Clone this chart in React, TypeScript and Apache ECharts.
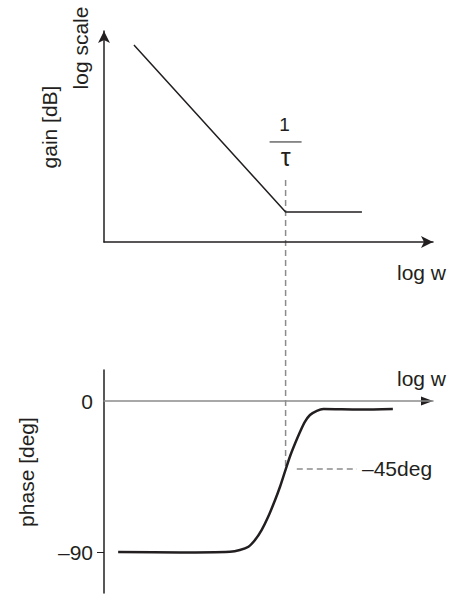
import React, { useEffect, useRef } from "react";
import * as echarts from "echarts";

// gain plot (asymptotic), arbitrary log-w units
const gainX = [0.91, 5.52, 7.84];
const gainY = [9.34, 1.42, 1.42];

// phase plot
const phaseX = [0.43, 2.31, 3.83, 4.13, 4.39, 4.59, 4.79, 4.99, 5.2, 5.35, 5.5, 5.65, 5.81, 5.96, 6.11, 6.26, 6.47, 6.67, 7.78, 8.78];
const phaseDeg = [-90, -90.2, -89.8, -88.8, -86.8, -82.8, -76.9, -69.0, -59.0, -51.1, -42.1, -33.2, -25.2, -18.3, -12.3, -8.3, -5.8, -4.8, -5.1, -4.8];

// guides
const cornerX = 5.52;
const guideTopGain = 2.94;
const guidePhase = -40.5;
const guideStartX = 5.86;
const guideEndX = 7.69;
const guideLabel = "–45deg";

const phaseTickValues = [0, -90];
const phaseTickLabels = ["0", "–90"];

const FONT = "'Liberation Sans', Arial, Helvetica, sans-serif";
const INK = "#231f20";
const GRAY = "#8c8c8c";

export default function App() {
  const ref = useRef<HTMLDivElement>(null);
  useEffect(() => {
    if (!ref.current) return;
    const chart = echarts.init(ref.current, null, { renderer: "svg" });
    const arrowAxis = (color: string) => ({
      show: true,
      symbol: ["none", "arrow"],
      symbolSize: [9, 12],
      lineStyle: { color, width: 1.5 },
    });
    const option: any = {
      animation: false,
      grid: [
        { left: 104, top: 31, width: 329, height: 211 },
        { left: 104, top: 370, width: 329, height: 223 },
      ],
      xAxis: [
        {
          gridIndex: 0, type: "value", min: 0, max: 10,
          axisLine: { ...arrowAxis(INK), onZero: false },
          axisTick: { show: false }, axisLabel: { show: false }, splitLine: { show: false },
        },
        {
          gridIndex: 1, type: "value", min: 0, max: 10,
          axisLine: { show: true, onZero: true, lineStyle: { color: GRAY, width: 1.5 } },
          axisTick: { show: false }, axisLabel: { show: false }, splitLine: { show: false },
        },
      ],
      yAxis: [
        {
          gridIndex: 0, type: "value", min: 0, max: 10,
          axisLine: { ...arrowAxis(INK), onZero: false },
          axisTick: { show: false }, axisLabel: { show: false }, splitLine: { show: false },
        },
        {
          gridIndex: 1, type: "value", min: -114.4, max: 18.5,
          axisLine: { show: true, onZero: false, lineStyle: { color: INK, width: 1.5 } },
          axisTick: { show: true, customValues: [-90], length: 7, lineStyle: { color: INK, width: 1 } },
          axisLabel: {
            show: true,
            customValues: phaseTickValues,
            formatter: (v: number) => phaseTickLabels[phaseTickValues.indexOf(v)] ?? "",
            fontSize: 21, color: INK, fontFamily: FONT, margin: 11,
            padding: [7, 0, 0, 0],
          },
          splitLine: { show: false },
        },
      ],
      series: [
        {
          type: "line", xAxisIndex: 0, yAxisIndex: 0,
          data: gainX.map((x, i) => [x, gainY[i]]),
          symbol: "none",
          lineStyle: { color: INK, width: 1.5 },
          silent: true,
        },
        {
          type: "line", xAxisIndex: 1, yAxisIndex: 1,
          data: phaseX.map((x, i) => [x, phaseDeg[i]]),
          symbol: "none", smooth: 0.3,
          lineStyle: { color: INK, width: 2.5 },
          silent: true,
          markLine: {
            silent: true, symbol: "none",
            lineStyle: { color: GRAY, type: [6, 4], width: 1.5 },
            label: { show: true, position: "end", formatter: guideLabel, fontSize: 21, color: INK, fontFamily: FONT, distance: 5 },
            emphasis: { disabled: true },
            data: [[{ coord: [guideStartX, guidePhase] }, { coord: [guideEndX, guidePhase] }]],
          },
        },
      ],
    };
    chart.setOption(option);
    const pTop = chart.convertToPixel({ gridIndex: 0 }, [cornerX, guideTopGain]) as number[];
    const pBot = chart.convertToPixel({ gridIndex: 1 }, [cornerX, guidePhase]) as number[];
    const pEnd = chart.convertToPixel({ gridIndex: 1 }, [10, 0]) as number[];
    const textStyle = (extra: any) => ({ fontSize: 21, fill: INK, fontFamily: FONT, align: "center", verticalAlign: "middle", ...extra });
    chart.setOption({
      graphic: [
        {
          type: "line", silent: true,
          shape: { x1: pTop[0], y1: pTop[1], x2: pBot[0], y2: pBot[1] },
          style: { stroke: GRAY, lineWidth: 1.5, lineDash: [6, 4] },
        },
        {
          type: "polygon", silent: true,
          shape: { points: [[pEnd[0], pEnd[1]], [pEnd[0] - 12, pEnd[1] - 4.5], [pEnd[0] - 12, pEnd[1] + 4.5]] },
          style: { fill: INK },
        },
        { type: "text", silent: true, x: pTop[0] - 1, y: pTop[1] - 55, style: textStyle({ text: "1", fontSize: 19 }) },
        {
          type: "line", silent: true,
          shape: { x1: pTop[0] - 16, y1: pTop[1] - 38, x2: pTop[0] + 16, y2: pTop[1] - 38 },
          style: { stroke: INK, lineWidth: 1 },
        },
        { type: "text", silent: true, x: pTop[0], y: pTop[1] - 23, style: textStyle({ text: "τ", fontSize: 25 }) },
        { type: "text", silent: true, x: 397, y: 272, style: textStyle({ text: "log w", align: "left" }) },
        { type: "text", silent: true, x: 397, y: 378, style: textStyle({ text: "log w", align: "left" }) },
        { type: "text", silent: true, x: 80, y: 48, rotation: Math.PI / 2, style: textStyle({ text: "log scale" }) },
        { type: "text", silent: true, x: 49, y: 127, rotation: Math.PI / 2, style: textStyle({ text: "gain [dB]" }) },
        { type: "text", silent: true, x: 26, y: 472, rotation: Math.PI / 2, style: textStyle({ text: "phase [deg]" }) },
      ],
    });
    return () => chart.dispose();
  }, []);
  return <div ref={ref} style={{ position: "fixed", left: 0, top: 0, width: 451, height: 596, background: "#fff" }} />;
}
